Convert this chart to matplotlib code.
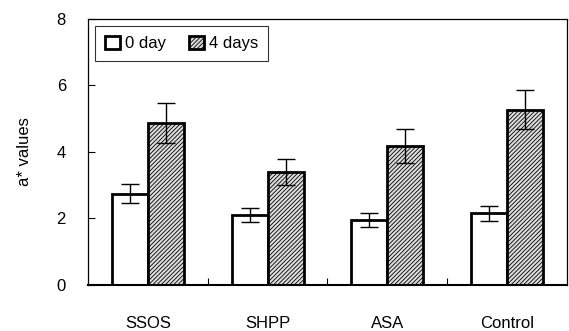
import numpy as np
import matplotlib
matplotlib.use('Agg')
import matplotlib.pyplot as plt

plt.rcParams['font.family'] = ['Liberation Sans', 'DejaVu Sans']
plt.rcParams['hatch.linewidth'] = 0.6

categories = ['SSOS', 'SHPP', 'ASA', 'Control']
day0 = [2.75, 2.1, 1.95, 2.15]
day0_err = [0.3, 0.2, 0.2, 0.22]
day4 = [4.88, 3.4, 4.18, 5.27]
day4_err = [0.6, 0.4, 0.5, 0.58]


def main():
    fig = plt.figure(figsize=(5.69, 3.31), dpi=100)
    ax = fig.add_axes([0.155, 0.139, 0.841, 0.804])

    x = np.arange(len(categories))
    w = 0.30
    ax.bar(x - w/2, day0, w, yerr=day0_err, color='white', edgecolor='black',
           linewidth=2, capsize=6.5, error_kw=dict(elinewidth=1, capthick=1),
           label='0 day')
    ax.bar(x + w/2, day4, w, yerr=day4_err, color='#dcdcdc', edgecolor='black',
           linewidth=2, hatch='////////', capsize=6.5,
           error_kw=dict(elinewidth=1, capthick=1), label='4 days')

    ax.set_xlim(-0.5, len(categories) - 0.5)
    ax.set_ylim(0, 8)
    ax.set_yticks([0, 2, 4, 6, 8])
    ax.set_xticks(x)
    ax.set_xticklabels(categories)
    ax.set_xticks(x[:-1] + 0.5, minor=True)
    ax.tick_params(axis='x', which='major', length=0, pad=22, labelsize=12)
    ax.tick_params(axis='x', which='minor', direction='in', length=5, width=0.8)
    ax.tick_params(axis='y', direction='in', length=5, width=0.8, pad=16,
                   labelsize=12)
    ax.set_ylabel('a* values', fontsize=12, labelpad=18)

    for s in ax.spines.values():
        s.set_linewidth(0.9)
    ax.spines['bottom'].set_linewidth(1.5)

    leg = ax.legend(loc='upper left', ncol=2, fontsize=12, frameon=True,
                    fancybox=False, edgecolor='black', handlelength=0.9,
                    handleheight=0.9, handletextpad=0.3, columnspacing=1.4,
                    borderaxespad=0.4, borderpad=0.6)
    leg.get_frame().set_linewidth(0.8)

    plt.savefig('out.png', dpi=100)


if __name__ == '__main__':
    main()
